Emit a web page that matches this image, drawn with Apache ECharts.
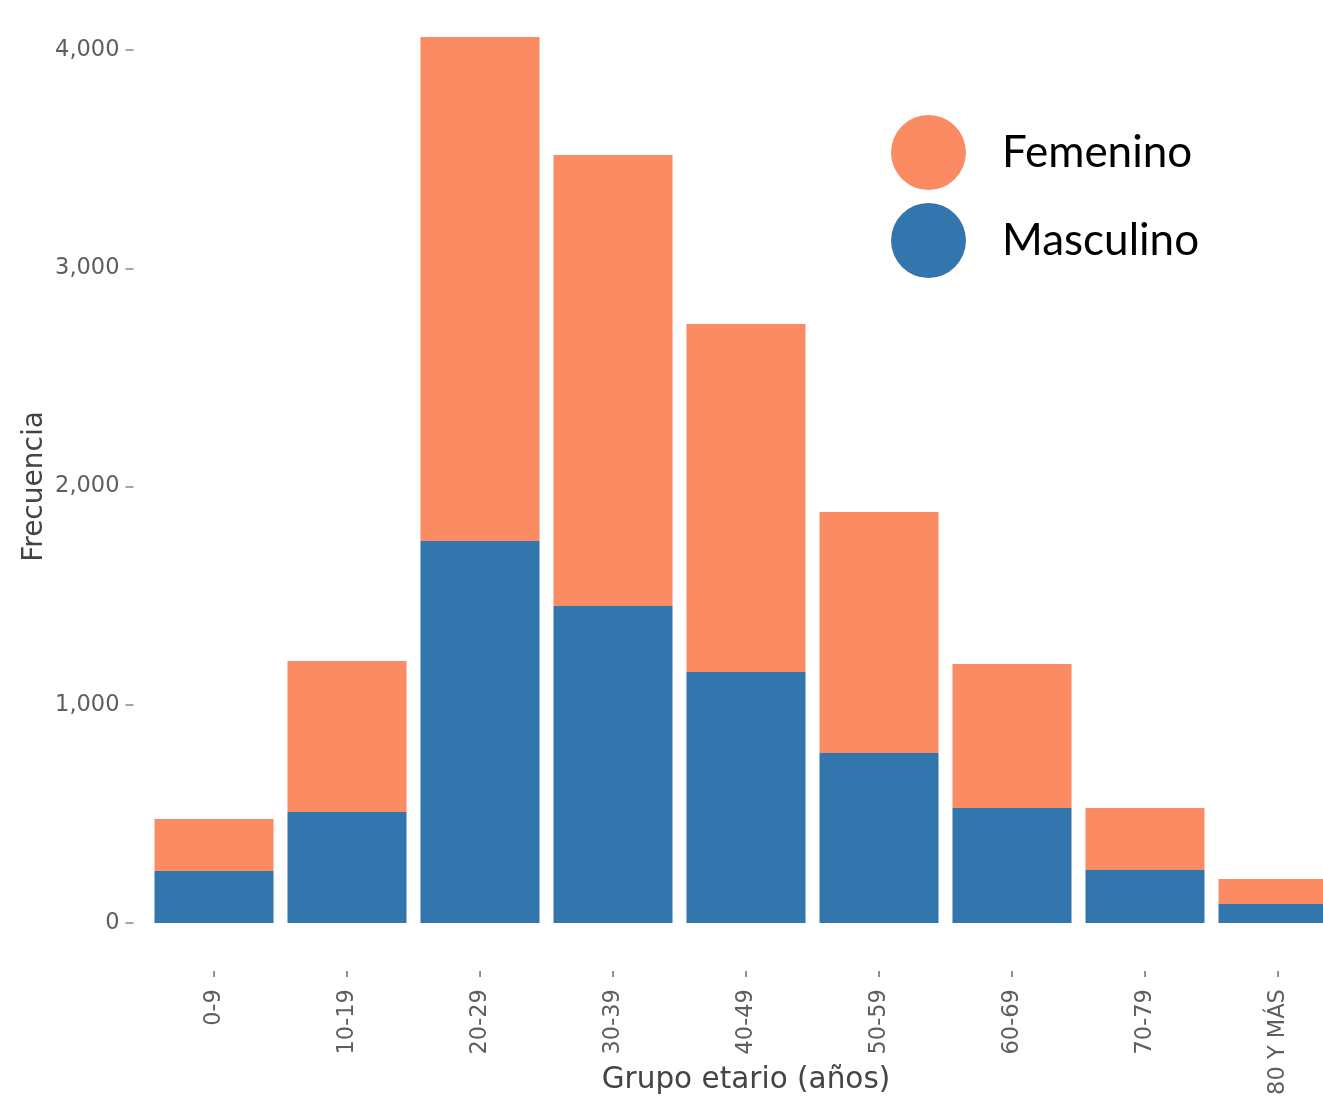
<!DOCTYPE html>
<html>
<head>
<meta charset="utf-8">
<script src="https://cdn.jsdelivr.net/npm/echarts@6/dist/echarts.min.js"></script>
<style>
html,body{margin:0;padding:0;background:#fff;}
#chart{width:1323px;height:1100px;}
</style>
</head>
<body>
<div id="chart"></div>
<script>
const categories = ['0-9','10-19','20-29','30-39','40-49','50-59','60-69','70-79','80 Y MÁS'];
const masculino = [238, 509, 1750, 1452, 1150, 779, 527, 243, 87];
const femenino  = [238, 691, 2310, 2067, 1595, 1104, 660, 284, 115];
const yTicks = [0, 1000, 2000, 3000, 4000];

const chart = echarts.init(document.getElementById('chart'));
const tickFont = {fontFamily:'DejaVu Sans', fontSize:22.5, color:'#5e5e5e'};
chart.setOption({
  animation:false,
  grid:{left:147.5, right:-21.5, top:50, bottom:177, containLabel:false, outerBoundsMode:'none'},
  legend:{
    data:['Femenino','Masculino'],
    orient:'vertical', left:886, top:110,
    icon:'circle', itemWidth:75, itemHeight:75, itemGap:13,
    textStyle:{fontFamily:'Lato', fontSize:44, color:'#000', padding:[0,0,0,31]}
  },
  xAxis:{
    type:'category', data:categories,
    axisLine:{show:false},
    axisTick:{show:false},
    axisLabel:Object.assign({rotate:90, margin:47, interval:0,
      formatter:v => v + '{t|-}',
      rich:{t:{fontFamily:'DejaVu Sans', fontSize:22.5, color:'#8a8a8a', padding:[0,0,0,11]}}
    }, tickFont),
    name:'Grupo etario (años)', nameLocation:'middle', nameGap:142, nameMoveOverlap:false,
    nameTextStyle:{fontFamily:'DejaVu Sans', fontSize:29.5, color:'#444'}
  },
  yAxis:{
    type:'value', min:yTicks[0], max:yTicks[yTicks.length-1], interval:1000, offset:14,
    axisLine:{show:false},
    axisTick:{show:true, length:8, lineStyle:{color:'#888', width:1.5}},
    splitLine:{show:false},
    axisLabel:Object.assign({margin:14, formatter:v=>v.toLocaleString('en-US')}, tickFont),
    name:'Frecuencia', nameLocation:'middle', nameGap:85, nameMoveOverlap:false,
    nameTextStyle:{fontFamily:'DejaVu Sans', fontSize:28, color:'#444'}
  },
  series:[
    {name:'Masculino', type:'bar', stack:'t', data:masculino, barWidth:'89.5%', clip:false,
     itemStyle:{color:'#3276ad'}},
    {name:'Femenino', type:'bar', stack:'t', data:femenino, barWidth:'89.5%', clip:false,
     itemStyle:{color:'#fb8b63'}}
  ]
});
</script>
</body>
</html>
